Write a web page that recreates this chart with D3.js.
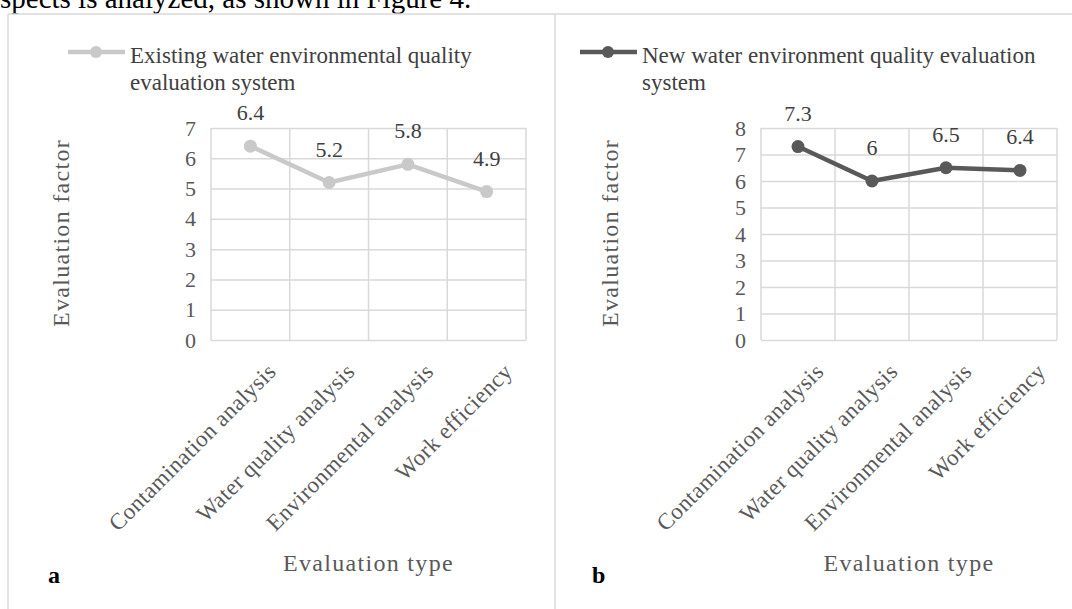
<!DOCTYPE html>
<html lang="en">
<head>
<meta charset="utf-8">
<title>Evaluation factor comparison</title>
<script src="https://d3js.org/d3.v7.min.js"></script>
<style>
  body { margin: 0; background: #fff; }
  svg { display: block; font-family: "Liberation Serif", "Times New Roman", serif; }
</style>
</head>
<body>
<svg id="chart" width="1072" height="609"></svg>
<script>
// data
var categories = ["Contamination analysis", "Water quality analysis", "Environmental analysis", "Work efficiency"]
var existingValues = [6.4, 5.2, 5.8, 4.9]
var newValues = [7.3, 6, 6.5, 6.4]
var yTicksA = [0, 1, 2, 3, 4, 5, 6, 7]
var yTicksB = [0, 1, 2, 3, 4, 5, 6, 7, 8]
var legendA = ["Existing water environmental quality", "evaluation system"]
var legendB = ["New water environment quality evaluation", "system"]

var gridColor = "#d9d9d9"
var textGray = "#595959"

var svg = d3.select("#chart")

// bit of document text cut off at the top
svg.append("text")
  .attr("x", 0).attr("y", 8)
  .attr("font-size", 29)
  .attr("fill", "#000")
  .text("spects is analyzed, as shown in Figure 4.")

// frame
svg.append("rect").attr("x", 0).attr("y", 14).attr("width", 1072).attr("height", 595).attr("fill", "#fff")
svg.append("line").attr("x1", 8).attr("x2", 1072).attr("y1", 14).attr("y2", 14).attr("stroke", gridColor).attr("stroke-width", 1.5)
svg.append("line").attr("x1", 8).attr("x2", 8).attr("y1", 14).attr("y2", 609).attr("stroke", gridColor).attr("stroke-width", 1.5)
svg.append("line").attr("x1", 555).attr("x2", 555).attr("y1", 14).attr("y2", 609).attr("stroke", gridColor).attr("stroke-width", 1.5)

function drawPanel(cfg) {
  var g = svg.append("g")
  var x = d3.scaleBand().domain(categories).range([cfg.left, cfg.right]).padding(0)
  var y = d3.scaleLinear().domain([0, d3.max(cfg.ticks)]).range([340, 128])

  // horizontal grid
  g.append("g")
    .attr("transform", "translate(" + cfg.left + ",0)")
    .call(d3.axisLeft(y).tickValues(cfg.ticks).tickSize(-(cfg.right - cfg.left)).tickFormat(""))
    .call(a => a.select(".domain").remove())
    .selectAll("line").attr("stroke", gridColor).attr("stroke-width", 1.5)

  // vertical grid at band edges
  var edges = categories.map(c => x(c)).concat([cfg.right])
  g.selectAll(".vgrid").data(edges).enter().append("line")
    .attr("x1", d => d).attr("x2", d => d)
    .attr("y1", y(d3.max(cfg.ticks))).attr("y2", y(0))
    .attr("stroke", gridColor).attr("stroke-width", 1.5)

  // y tick labels
  g.selectAll(".ytick").data(cfg.ticks).enter().append("text")
    .attr("x", cfg.left - 15).attr("y", d => y(d) + 7.5)
    .attr("text-anchor", "end")
    .attr("font-size", 22).attr("fill", textGray)
    .text(d => d)

  // x labels, rotated
  g.selectAll(".xlab").data(categories).enter().append("text")
    .attr("transform", d => "translate(" + (x(d) + x.bandwidth() / 2 + 27) + ",373) rotate(-45)")
    .attr("text-anchor", "end")
    .attr("font-size", 23).attr("letter-spacing", 0.4).attr("fill", textGray)
    .text(d => d)

  // axis titles
  g.append("text")
    .attr("transform", "translate(" + cfg.yTitleX + ",233) rotate(-90)")
    .attr("text-anchor", "middle")
    .attr("font-size", 24).attr("letter-spacing", 1.3).attr("fill", textGray)
    .text("Evaluation factor")
  g.append("text")
    .attr("x", (cfg.left + cfg.right) / 2).attr("y", 571)
    .attr("text-anchor", "middle")
    .attr("font-size", 24).attr("letter-spacing", 1.3).attr("fill", textGray)
    .text("Evaluation type")

  // panel letter
  g.append("text")
    .attr("x", cfg.letterX).attr("y", 583)
    .attr("font-size", 24).attr("font-weight", "bold").attr("fill", "#000")
    .text(cfg.letter)

  // series
  var line = d3.line().x((d, i) => x(categories[i]) + x.bandwidth() / 2).y(d => y(d))
  g.append("path").datum(cfg.values)
    .attr("d", line).attr("fill", "none")
    .attr("stroke", cfg.color).attr("stroke-width", 4.5).attr("stroke-linejoin", "round")
  g.selectAll(".pt").data(cfg.values).enter().append("circle")
    .attr("cx", (d, i) => x(categories[i]) + x.bandwidth() / 2)
    .attr("cy", d => y(d)).attr("r", 6.5)
    .attr("fill", cfg.color)
  g.selectAll(".lbl").data(cfg.values).enter().append("text")
    .attr("x", (d, i) => x(categories[i]) + x.bandwidth() / 2)
    .attr("y", d => y(d) - 26)
    .attr("text-anchor", "middle")
    .attr("font-size", 22).attr("fill", "#404040")
    .text(d => d)

  // legend
  g.append("line")
    .attr("x1", cfg.legendX).attr("x2", cfg.legendX + 57)
    .attr("y1", 52).attr("y2", 52)
    .attr("stroke", cfg.color).attr("stroke-width", 4.5)
  g.append("circle").attr("cx", cfg.legendX + 28).attr("cy", 52).attr("r", 6).attr("fill", cfg.color)
  g.selectAll(".leg").data(cfg.legend).enter().append("text")
    .attr("x", cfg.legendX + 62).attr("y", (d, i) => 63 + i * 27)
    .attr("font-size", 23).attr("fill", "#404040")
    .text(d => d)
}

drawPanel({left: 211, right: 526, ticks: yTicksA, values: existingValues, color: "#c9c9c9",
  legend: legendA, legendX: 68, yTitleX: 69, letter: "a", letterX: 48})
drawPanel({left: 761, right: 1057, ticks: yTicksB, values: newValues, color: "#595959",
  legend: legendB, legendX: 580, yTitleX: 618, letter: "b", letterX: 592})
</script>
</body>
</html>
